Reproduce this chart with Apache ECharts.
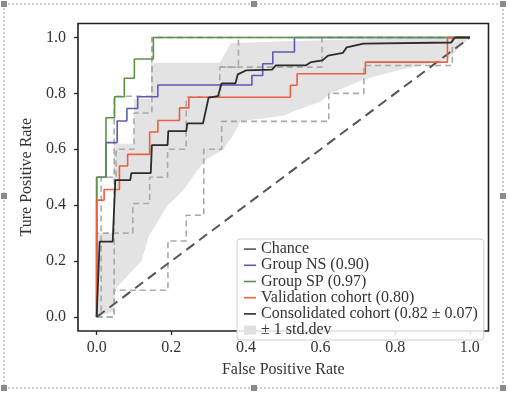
<!DOCTYPE html>
<html>
<head>
<meta charset="utf-8">
<script src="https://cdn.jsdelivr.net/npm/echarts@6/dist/echarts.min.js"></script>
<style>
html,body{margin:0;padding:0;background:#fff;}
#chart{width:511px;height:394px;}
</style>
</head>
<body>
<div id="chart"></div>
<script>
// ---- data ----
const xTicks = [0.0, 0.2, 0.4, 0.6, 0.8, 1.0];
const yTicks = [0.0, 0.2, 0.4, 0.6, 0.8, 1.0];

const legendNames = ['Chance', 'Group NS (0.90)', 'Group SP (0.97)', 'Validation cohort (0.80)', 'Consolidated cohort (0.82 \u00b1 0.07)', '\u00b1 1 std.dev'];

const chance = [[0, 0], [1, 1]];

const groupNS = [[0,0],[0,0.5],[0.025,0.5],[0.025,0.624],[0.055,0.624],[0.055,0.701],[0.081,0.701],[0.081,0.746],[0.11,0.746],[0.11,0.788],[0.164,0.788],[0.164,0.83],[0.416,0.83],[0.416,0.864],[0.445,0.864],[0.445,0.906],[0.472,0.906],[0.472,0.948],[0.53,0.948],[0.53,1],[1,1]];

const groupSP = [[0,0],[0,0.5],[0.025,0.5],[0.025,0.713],[0.048,0.713],[0.048,0.788],[0.074,0.788],[0.074,0.854],[0.101,0.854],[0.101,0.923],[0.152,0.923],[0.152,1],[1,1]];

const validation = [[0,0],[0,0.418],[0.02,0.418],[0.02,0.456],[0.061,0.456],[0.061,0.54],[0.083,0.54],[0.083,0.582],[0.142,0.582],[0.142,0.662],[0.164,0.662],[0.164,0.703],[0.222,0.703],[0.222,0.748],[0.247,0.748],[0.247,0.786],[0.519,0.786],[0.519,0.829],[0.537,0.829],[0.537,0.87],[0.72,0.87],[0.72,0.912],[0.94,0.912],[0.94,1],[1,1]];

const consolidated = [[0,0],[0.008,0.27],[0.043,0.27],[0.05,0.49],[0.09,0.49],[0.093,0.515],[0.145,0.515],[0.148,0.615],[0.19,0.615],[0.192,0.665],[0.24,0.665],[0.243,0.693],[0.285,0.693],[0.30,0.785],[0.325,0.79],[0.335,0.836],[0.372,0.836],[0.378,0.868],[0.40,0.882],[0.47,0.885],[0.48,0.9],[0.56,0.9],[0.575,0.912],[0.605,0.918],[0.62,0.935],[0.66,0.945],[0.67,0.965],[0.715,0.978],[0.95,0.982],[0.96,1.0],[1.0,1.0]];

const fold1 = [[0,0],[0.047,0],[0.047,0.096],[0.191,0.096],[0.191,0.272],[0.24,0.272],[0.24,0.364],[0.287,0.364],[0.287,0.6],[0.335,0.6],[0.335,0.70],[0.622,0.70],[0.622,0.80],[0.716,0.80],[0.716,0.9],[0.953,0.9],[0.953,1],[1,1]];
const fold2 = [[0,0],[0,0.30],[0.097,0.30],[0.097,0.406],[0.142,0.406],[0.142,0.50],[0.19,0.50],[0.19,0.60],[0.24,0.60],[0.24,0.787],[0.33,0.787],[0.33,0.894],[0.604,0.894],[0.604,1],[1,1]];
const fold3 = [[0,0],[0.047,0],[0.047,0.79],[0.148,0.79],[0.148,1],[1,1]];
const fold4 = [[0,0],[0.012,0],[0.012,0.5],[0.052,0.5],[0.052,0.6],[0.1,0.6],[0.1,0.73],[0.148,0.73],[0.148,1],[0.38,1]];
const fold5 = [[0.33,0.894],[0.38,0.894],[0.38,1]];

const bandUpper = [[0,0.3],[0.047,0.3],[0.047,0.62],[0.1,0.62],[0.1,0.78],[0.146,0.78],[0.146,0.91],[0.33,0.91],[0.36,0.98],[0.6,0.99],[0.95,1],[1,1]];
const bandLower = [[0,0],[0.045,0.02],[0.05,0.1],[0.12,0.2],[0.14,0.29],[0.19,0.4],[0.23,0.45],[0.27,0.525],[0.29,0.56],[0.34,0.6],[0.37,0.66],[0.385,0.70],[0.5,0.72],[0.546,0.745],[0.6,0.77],[0.626,0.80],[0.716,0.85],[0.8,0.88],[0.94,0.92],[1,1]];

// ---- chart ----
const FONT = 'Liberation Serif';
const chart = echarts.init(document.getElementById('chart'), null, {renderer: 'canvas'});

function foldSeries(name, d) {
  return {
    name: name, type: 'line', data: d, symbol: 'none', z: 3,
    itemStyle: {color: '#a9a9a9'},
    lineStyle: {color: '#a9a9a9', width: 1.6, type: [6, 4]},
    silent: true, animation: false
  };
}
function lineSeries(name, d, color, width, z, type) {
  return {
    name: name, type: 'line', data: d, symbol: 'none', showSymbol: false, z: z,
    itemStyle: {color: color},
    lineStyle: {color: color, width: width, type: type || 'solid'}
  };
}

const bandPoly = bandUpper.concat(bandLower.slice().reverse());
// legend handle: a short horizontal bar inside a 12x9 box
const LINE_ICON = 'path://M0,0 M0,3.8 L12,3.8 L12,5.4 L0,5.4 Z M12,9';

const option = {
  animation: false,
  backgroundColor: '#fff',
  grid: {
    left: 78, top: 23.5, width: 410.5, height: 307.5,
    show: true, borderColor: '#222', borderWidth: 1.6, backgroundColor: 'transparent'
  },
  xAxis: {
    type: 'value', min: -0.05, max: 1.05,
    axisLine: {show: false, onZero: false},
    splitLine: {show: false},
    axisTick: {show: true, length: 4, customValues: xTicks, lineStyle: {color: '#222', width: 1.3}},
    axisLabel: {customValues: xTicks, formatter: v => v.toFixed(1), fontFamily: FONT, fontSize: 16, color: '#333', margin: 9},
    name: 'False Positive Rate', nameLocation: 'middle', nameGap: 31,
    nameTextStyle: {fontFamily: FONT, fontSize: 16, color: '#333'}
  },
  yAxis: {
    type: 'value', min: -0.05, max: 1.05,
    axisLine: {show: false, onZero: false},
    splitLine: {show: false},
    axisTick: {show: true, length: 4, customValues: yTicks, lineStyle: {color: '#222', width: 1.3}},
    axisLabel: {customValues: yTicks, formatter: v => v.toFixed(1), fontFamily: FONT, fontSize: 16, color: '#333', margin: 12},
    name: 'Ture Positive Rate', nameLocation: 'middle', nameGap: 37, nameRotate: 90,
    nameTextStyle: {fontFamily: FONT, fontSize: 16, color: '#333'}
  },
  legend: {
    orient: 'vertical', left: 237, top: 239,
    padding: [2, 6, 2, 7],
    itemWidth: 12, itemHeight: 9, itemGap: 0.2,
    backgroundColor: 'rgba(255,255,255,0.85)', borderColor: '#cfcfcf', borderWidth: 1, borderRadius: 3,
    textStyle: {fontFamily: FONT, fontSize: 16, color: '#333', lineHeight: 13},
    selectedMode: false,
    data: [
      {name: legendNames[0], icon: LINE_ICON, itemStyle: {color: '#555'}},
      {name: legendNames[1], icon: LINE_ICON},
      {name: legendNames[2], icon: LINE_ICON},
      {name: legendNames[3], icon: LINE_ICON},
      {name: legendNames[4], icon: LINE_ICON},
      {name: legendNames[5], icon: 'rect'}
    ]
  },
  graphic: [
    {type: 'rect', shape: {x: 4, y: 4, width: 499, height: 384}, style: {fill: 'none', stroke: '#9a9a9a', lineWidth: 1, lineDash: [2, 2]}, silent: true, z: 100},
    ...[[4,4],[254,4],[503,4],[4,196],[503,196],[4,388],[254,388],[503,388]].map(p => ({
      type: 'rect', shape: {x: p[0] - 3, y: p[1] - 3, width: 6, height: 6}, style: {fill: '#8a8a8a'}, silent: true, z: 101
    }))
  ],
  series: [
    {
      name: legendNames[5], type: 'custom', z: 1,
      itemStyle: {color: '#e0e0e0'},
      renderItem: function (params, api) {
        const pts = bandPoly.map(p => api.coord(p));
        return {type: 'polygon', shape: {points: pts}, style: {fill: '#e3e3e3'}};
      },
      data: [0], silent: true
    },
    foldSeries('f1', fold1), foldSeries('f2', fold2), foldSeries('f3', fold3), foldSeries('f4', fold4), foldSeries('f5', fold5),
    lineSeries(legendNames[0], chance, '#555', 2, 4, [10, 6]),
    lineSeries(legendNames[1], groupNS, '#5b5bb5', 1.6, 5),
    lineSeries(legendNames[2], groupSP, '#5a9447', 1.6, 6),
    lineSeries(legendNames[3], validation, '#ea6040', 1.6, 7),
    lineSeries(legendNames[4], consolidated, '#2b2b2b', 1.8, 8)
  ]
};
chart.setOption(option);
</script>
</body>
</html>
